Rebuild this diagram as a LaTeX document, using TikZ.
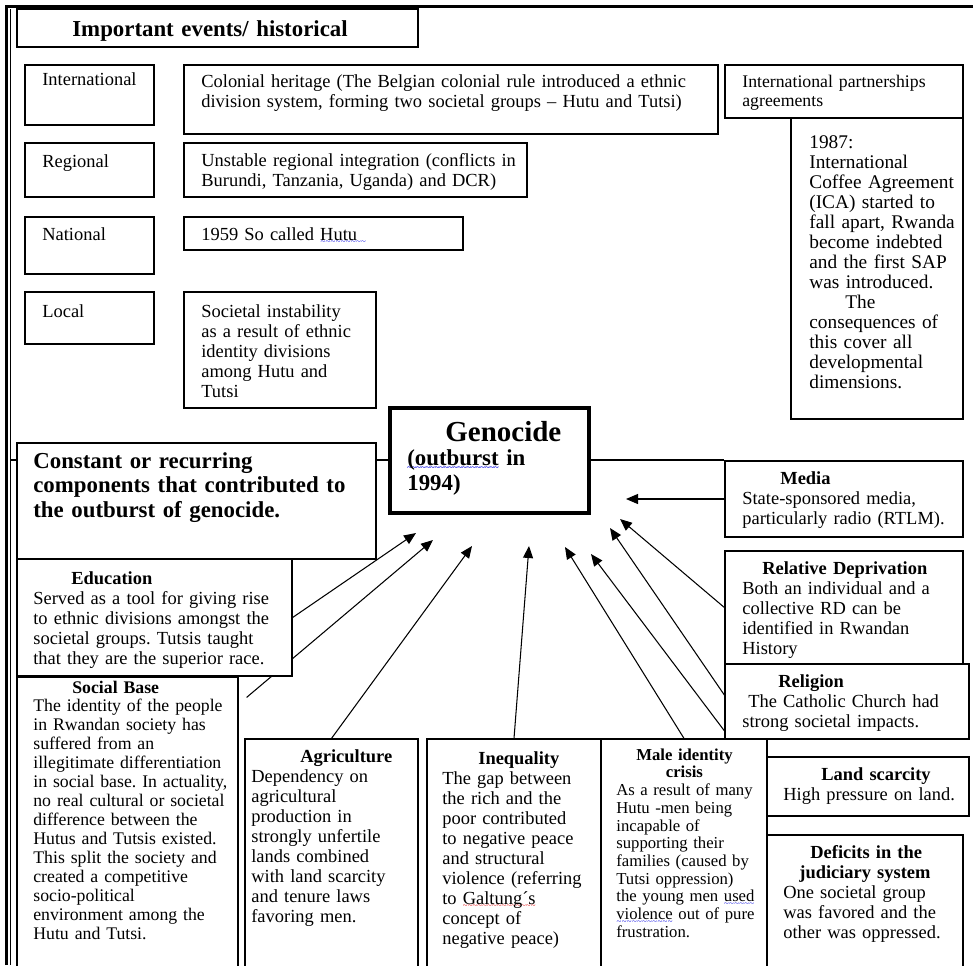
\documentclass[tikz,border=0pt]{standalone}
\usepackage{fontspec}
\setmainfont{Liberation Serif}
\usepackage{tikz}
\usetikzlibrary{positioning}
\usetikzlibrary{calc}
\usetikzlibrary{fit}
\usetikzlibrary{arrows.meta}
\usetikzlibrary{backgrounds}
\definecolor{spellblue}{RGB}{30,30,230}
\definecolor{spellred}{RGB}{230,30,30}

\frenchspacing
\newcommand{\bodyfont}{\fontsize{10.5}{11.4}\selectfont}
% spell-check squiggle under a word
\newsavebox{\wavybox}
\newcommand{\wavy}[2]{\leavevmode\sbox{\wavybox}{#2}\rlap{\textcolor{#1}{\lower2.7pt\hbox to \wd\wavybox{\fontsize{5}{5}\selectfont\xleaders\hbox{\textasciitilde}\hfil}}}\usebox{\wavybox}}

\begin{document}
\begin{tikzpicture}[x=0.02cm, y=-0.02cm,
  box/.style={draw, fill=white, line width=0.7pt, inner sep=0pt},
  txt/.style={anchor=base west, align=left, text width=10cm, inner sep=0pt, font=\bodyfont},
  bigbold/.style={anchor=base west, align=left, text width=10cm, inner sep=0pt, font=\fontsize{13}{14.2}\selectfont\bfseries},
  arr/.style={line width=0.6pt, -{Triangle[length=0.24cm, width=0.2cm]}}]

\useasboundingbox (0,0) rectangle (973,965);

%---------------------------------------
% Page frame
%---------------------------------------
\draw[line width=1.6pt] (6.5,965) -- (6.5,6.5) -- (973,6.5);
\draw[line width=0.5pt] (10,965) -- (10,9);
\coordinate (hl) at (10,460);

%====================================================
% TOP: historical events
%====================================================
\node[box, fit={(17,9) (418,47)}] (title) {};
\node[bigbold] (title-t) at (72,36) {Important events/ historical};

\node[box, fit={(25,65) (154,125)}] (intl) {};
\node[txt] (intl-t) at (42,85) {International};
\node[box, fit={(184,65) (718,134)}] (colonial) {};
\node[txt] (colonial-t) at (201,87) {Colonial heritage (The Belgian colonial rule introduced a ethnic\\division system, forming two societal groups -- Hutu and Tutsi)};

\node[box, fit={(725,65) (963,118)}] (partner) {};
\node[txt, font=\fontsize{10.1}{11}\selectfont] (partner-t) at (742,87) {International partnerships\\agreements};
\node[box, fit={(791,118) (963,419)}] (coffee) {};
\node[txt, font=\fontsize{11}{11.4}\selectfont] (coffee-t) at (809,148) {1987:\\International\\Coffee Agreement\\(ICA) started to\\fall apart, Rwanda\\become indebted\\and the first SAP\\was introduced.\\\hspace*{0.72cm}The\\consequences of\\this cover all\\developmental\\dimensions.};

\node[box, fit={(25,143) (154,197)}] (regional) {};
\node[txt] (regional-t) at (42,167) {Regional};
\node[box, fit={(184,143) (527,197)}] (unstable) {};
\node[txt] (unstable-t) at (201,166) {Unstable regional integration (conflicts in\\Burundi, Tanzania, Uganda) and DCR)};

\node[box, fit={(25,217) (154,274)}] (national) {};
\node[txt] (national-t) at (42,240) {National};
\node[box, fit={(184,217) (463,250)}] (hutu59) {};
\node[txt] (hutu59-t) at (201,240) {1959 So called \wavy{spellblue}{Hutu\ \,}};

\node[box, fit={(25,292) (154,344)}] (local) {};
\node[txt] (local-t) at (42,317) {Local};
\node[box, fit={(184,292) (376,408)}] (societal) {};
\node[txt] (societal-t) at (201,317) {Societal instability\\as a result of ethnic\\identity divisions\\among Hutu and\\Tutsi};

%====================================================
% CENTRE: genocide
%====================================================
\node[box, line width=1.8pt, fit={(390,408) (589,513)}] (genocide) {};
\node[bigbold, font=\fontsize{13}{14}\selectfont\bfseries] (genocide-t) at (407,441)
  {\hspace*{0.76cm}{\fontsize{16.5}{16.5}\selectfont Genocide}\\\wavy{spellblue}{(outburst} in\\1994)};

\node[box, fit={(17,443) (376,559)}] (constant) {};
\node[bigbold] (constant-t) at (33,468) {Constant or recurring\\components that contributed to\\the outburst of genocide.};

%====================================================
% BOTTOM + RIGHT: components
%====================================================
\node[box, fit={(17,559) (292,676)}] (edu) {};
\node[txt] (edu-t) at (33,584) {\hspace*{0.76cm}\textbf{Education}\\Served as a tool for giving rise\\to ethnic divisions amongst the\\societal groups. Tutsis taught\\that they are the superior race.};

\node[box, fit={(17,677) (238,985)}] (sb) {};
\node[txt, font=\fontsize{10.1}{10.8}\selectfont] (sb-t) at (33,693) {\hspace*{0.78cm}\textbf{Social Base}\\The identity of the people\\in Rwandan society has\\suffered from an\\illegitimate differentiation\\in social base. In actuality,\\no real cultural or societal\\difference between the\\Hutus and Tutsis existed.\\This split the society and\\created a competitive\\socio-political\\environment among the\\Hutu and Tutsi.};

\node[box, fit={(245,739) (418,985)}] (agri) {};
\node[txt] (agri-t) at (251,762) {\hspace*{0.98cm}\textbf{Agriculture}\\Dependency on\\agricultural\\production in\\strongly unfertile\\lands combined\\with land scarcity\\and tenure laws\\favoring men.};

\node[box, fit={(427,739) (601,985)}] (ineq) {};
\node[txt] (ineq-t) at (442,764) {\hspace*{0.72cm}\textbf{Inequality}\\The gap between\\the rich and the\\poor contributed\\to negative peace\\and structural\\violence (referring\\to \wavy{spellred}{Galtung´s}\\concept of\\negative peace)};

\node[box, fit={(601,739) (767,985)}] (male) {};
\node[txt, font=\fontsize{9.5}{10.1}\selectfont] (male-t) at (616,760) {\hspace*{0.4cm}\textbf{Male identity}\\\hspace*{0.99cm}\textbf{crisis}\\As a result of many\\Hutu -men being\\incapable of\\supporting their\\families (caused by\\Tutsi oppression)\\the young men \wavy{spellblue}{used}\\\wavy{spellblue}{violence} out of pure\\frustration.};

\node[box, fit={(725,461) (963,537)}] (media) {};
\node[txt] (media-t) at (742,484) {\hspace*{0.76cm}\textbf{Media}\\State-sponsored media,\\particularly radio (RTLM).};

\node[box, fit={(725,551) (963,664)}] (rd) {};
\node[txt] (rd-t) at (742,574) {\hspace*{0.4cm}\textbf{Relative Deprivation}\\Both an individual and a\\collective RD can be\\identified in Rwandan\\History};

\node[box, fit={(725,664) (969,739)}] (rel) {};
\node[txt] (rel-t) at (742,687) {\hspace*{0.72cm}\textbf{Religion}\\\hspace*{0.12cm}The Catholic Church had\\strong societal impacts.};

\node[box, fit={(767,757) (969,816)}] (land) {};
\node[txt] (land-t) at (783,780) {\hspace*{0.76cm}\textbf{Land scarcity}\\High pressure on land.};

\node[box, fit={(767,835) (963,985)}] (deficits) {};
\node[txt] (deficits-t) at (783,858) {\hspace*{0.54cm}\textbf{Deficits in the}\\\hspace*{0.32cm}\textbf{judiciary system}\\One societal group\\was favored and the\\other was oppressed.};

%---------------------------------------
% Arrow tips under the genocide box
%---------------------------------------
\coordinate (t1) at (416,533);
\coordinate (t2) at (433,540);
\coordinate (t3) at (472,546);
\coordinate (t4) at (529,546);
\coordinate (t5) at (565,547);
\coordinate (t6) at (591,554);
\coordinate (t7) at (610,528);
\coordinate (t8) at (620,519);
\coordinate (t9) at (626,499);

\begin{pgfonlayer}{background}
  \draw[line width=0.6pt] (hl) -- (hl -| media.west);
  \draw[arr] (edu.east) -- (t1);
  \draw[arr] ($(sb.north east)+(8,21)$) -- (t2);
  \draw[arr] (agri.north) -- (t3);
  \draw[arr] (ineq.north) -- (t4);
  \draw[arr] (male.north) -- (t5);
  \draw[arr] (land.west) -- (t6);
  \draw[arr] (land.north west) -- (t7);
  \draw[arr] (rd.west) -- (t8);
  \draw[arr] (media.west) -- (t9);
\end{pgfonlayer}

\end{tikzpicture}
\end{document}
